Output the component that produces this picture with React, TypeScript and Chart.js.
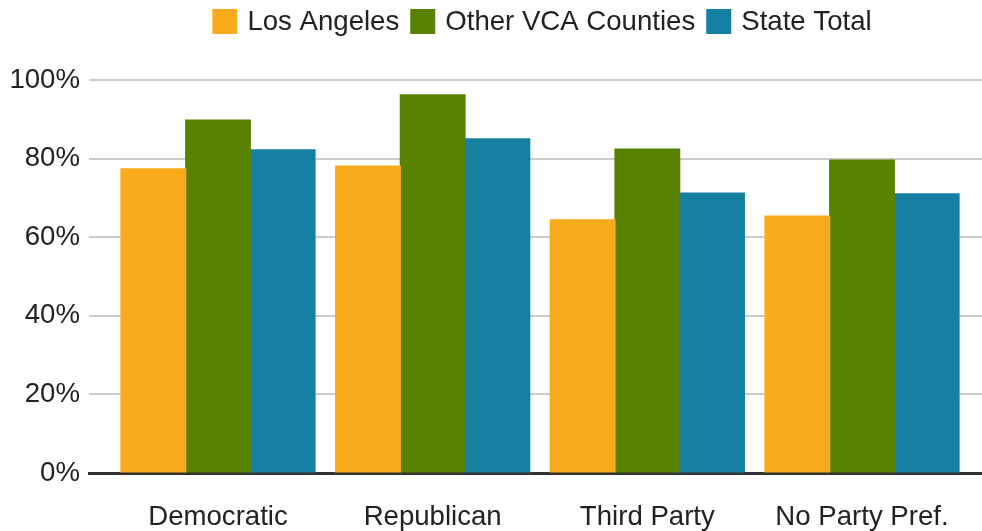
import React, { useEffect, useRef } from "react";
import { Chart, registerables } from "chart.js";

Chart.register(...registerables);

const categories = ["Democratic", "Republican", "Third Party", "No Party Pref."];
const seriesNames = ["Los Angeles", "Other VCA Counties", "State Total"];
const losAngeles = [77.4, 78.1, 64.4, 65.4];
const otherVca = [89.8, 96.2, 82.4, 79.6];
const stateTotal = [82.2, 85.0, 71.2, 71.0];
const yTicks = [0, 20, 40, 60, 80, 100];
const seriesColors = ["#F9AB1B", "#588200", "#1580A1"];

const FONT = "'Liberation Sans', Arial, Helvetica, sans-serif";
const TEXT = "#222222";
const FS = 27.6;

const legendPlugin = {
  id: "customLegend",
  afterDraw(chart: any) {
    const ctx = chart.ctx;
    ctx.save();
    ctx.font = `${FS}px ${FONT}`;
    const box = 25;
    const gapText = 10;
    const gapItem = 11;
    const items = chart.data.datasets.map((ds: any) => ({
      label: ds.label,
      color: ds.backgroundColor,
      w: ctx.measureText(ds.label).width,
    }));
    const total =
      items.reduce((s: number, it: any) => s + box + gapText + it.w, 0) +
      gapItem * (items.length - 1);
    let x = 542 - total / 2;
    const cy = 21.5;
    ctx.textBaseline = "middle";
    ctx.textAlign = "left";
    items.forEach((it: any) => {
      ctx.fillStyle = it.color;
      ctx.fillRect(x, cy - box / 2, box, box);
      x += box + gapText;
      ctx.fillStyle = TEXT;
      ctx.fillText(it.label, x, cy + 1);
      x += it.w + gapItem;
    });
    ctx.restore();
  },
};

export default function App() {
  const ref = useRef<HTMLCanvasElement | null>(null);

  useEffect(() => {
    if (!ref.current) return;
    const series = [losAngeles, otherVca, stateTotal];
    const chart = new Chart(ref.current, {
      type: "bar",
      data: {
        datasets: series.map((vals, k) => ({
          label: seriesNames[k],
          backgroundColor: seriesColors[k],
          borderWidth: 0,
          inflateAmount: 0.6,
          data: vals.map((v, i) => ({ x: i, y: v })),
          categoryPercentage: 0.904,
          barPercentage: 1,
        })),
      },
      options: {
        animation: false,
        responsive: false,
        maintainAspectRatio: false,
        layout: { padding: { top: 80, left: 0, right: 0, bottom: 0 } },
        plugins: {
          legend: { display: false },
          tooltip: { enabled: false },
        },
        scales: {
          x: {
            type: "linear",
            min: -0.601,
            max: 3.559,
            offset: false,
            z: 1,
            grid: { display: false, drawTicks: false },
            border: { display: true, color: "#333333", width: 3 },
            afterBuildTicks: (s: any) => {
              s.ticks = categories.map((_, i) => ({ value: i }));
            },
            afterFit: (s: any) => {
              s.height = 58;
            },
            ticks: {
              autoSkip: false,
              maxRotation: 0,
              padding: 28,
              color: TEXT,
              font: { size: FS, family: FONT },
              callback: (v: any) => categories[v] ?? "",
            },
          },
          y: {
            min: 0,
            max: 100,
            afterBuildTicks: (s: any) => {
              s.ticks = yTicks.map((v) => ({ value: v }));
            },
            afterFit: (s: any) => {
              s.width = 89;
            },
            border: { display: false },
            grid: {
              drawTicks: false,
              lineWidth: 2,
              color: (c: any) =>
                c.tick && c.tick.value === 0 ? "rgba(0,0,0,0)" : "#cccccc",
            },
            ticks: {
              padding: 9,
              color: TEXT,
              font: { size: FS, family: FONT },
              callback: (v: any) => `${v}%`,
            },
          },
        },
      } as any,
      plugins: [legendPlugin],
    });
    return () => chart.destroy();
  }, []);

  return (
    <div style={{ position: "fixed", left: 0, top: 0, width: 982, height: 531, background: "#fff" }}>
      <canvas ref={ref} width={982} height={531} style={{ display: "block" }} />
    </div>
  );
}
